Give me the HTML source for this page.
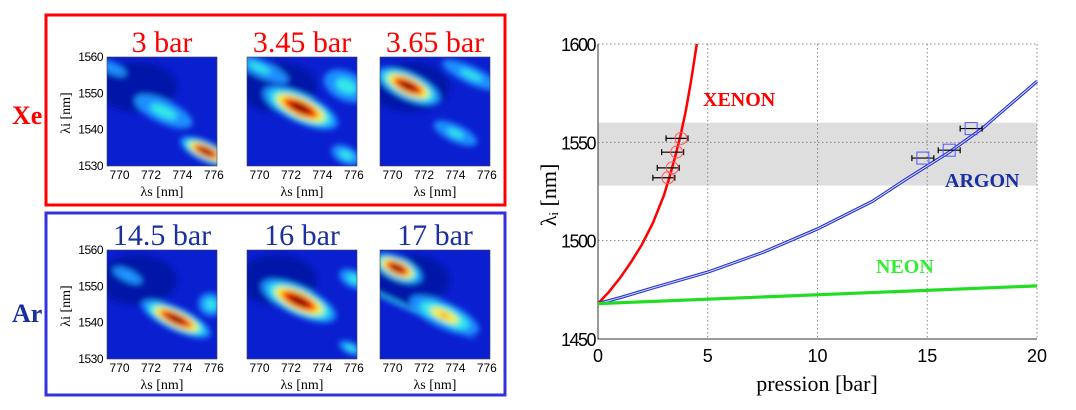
<!DOCTYPE html>
<html><head><meta charset="utf-8"><style>
body{margin:0;background:#fff;width:1076px;height:405px;overflow:hidden;font-family:"Liberation Serif",serif}
</style></head><body>
<svg width="1076" height="405" viewBox="0 0 1076 405" xmlns="http://www.w3.org/2000/svg">
<defs>
<filter id="bl" x="-50%" y="-50%" width="200%" height="200%"><feGaussianBlur stdDeviation="3"/></filter>
<clipPath id="hc"><rect x="0" y="0" width="110" height="109"/></clipPath>
</defs>
<g id="left"></g>
<g id="chart"></g>
</svg>
<script>
const NS='http://www.w3.org/2000/svg';
function mk(t,a,p,txt){const e=document.createElementNS(NS,t);for(const k in a)e.setAttribute(k,a[k]);if(txt!==undefined)e.textContent=txt;p.appendChild(e);return e;}
// ---- chart data ----
const xTicks=[0,5,10,15,20];
const yTicks=[1450,1500,1550,1600];
const band=[1528,1560];
const xenonP=[0,0.5,1,1.5,2,2.5,3,3.25,3.5,3.75,4,4.25,4.5];
const xenonL=[1468,1474,1481,1489,1498,1509,1523,1532,1542,1553,1566,1582,1600];
const argonP=[0,1,2.5,5,7.5,10,12.5,14,15,16,17.5,20];
const argonL=[1468,1471,1476,1484,1494,1506,1520,1531,1538,1545,1557,1581];
const neonP=[0,20];
const neonL=[1468,1477];
const xeDataP=[3.0,3.2,3.4,3.6];
const xeDataL=[1532,1537,1545,1552];
const arDataP=[14.8,16.0,17.0];
const arDataL=[1542,1546,1557];
const errX=0.5;
const X=p=>598+p*(1037-598)/20;
const Y=l=>339-(l-1450)*(339-44)/150;
const C=document.getElementById('chart');
let r=mk('rect',{x:598,y:Y(band[1]),width:439,height:Y(band[0])-Y(band[1]),fill:'#dedede'},C);

xTicks.forEach(t=>{if(t>0){let g=mk('line',{x1:X(t),x2:X(t),y1:44,y2:339,stroke:'#888','stroke-dasharray':'1.5,2.5'},C);}
 let l=mk('text',{x:X(t),y:362,'text-anchor':'middle','font-family':'Liberation Sans, sans-serif','font-size':18},C,t);});
yTicks.forEach(t=>{if(t>1450){let g=mk('line',{x1:598,x2:1037,y1:Y(t),y2:Y(t),stroke:'#888','stroke-dasharray':'1.5,2.5'},C);}
 let l=mk('text',{x:595,y:Y(t)+7,'text-anchor':'end','font-family':'Liberation Sans, sans-serif','font-size':18,'letter-spacing':'-1.5'},C,t);});
let ax=mk('path',{d:'M598,44V339H1037',fill:'none',stroke:'#333','stroke-width':1},C);
function line(P,L,col,w,name){let d=P.map((p,i)=>(i?'L':'M')+X(p).toFixed(1)+','+Y(L[i]).toFixed(1)).join('');let e=mk('path',{d:d,fill:'none',stroke:col,'stroke-width':w,'stroke-linejoin':'round'},C);return e;}
line(xenonP,xenonL,'#f00',2.5,'xenon-curve');
line(argonP,argonL,'#2233dd',3.2,'argon-curve');
line(argonP,argonL,'#dde',1,'argon-curve-inner');
line(neonP,neonL,'#22dd22',3.2,'neon-curve');
xeDataP.forEach((p,i)=>{let e=mk('path',{d:`M${X(p-errX)},${Y(xeDataL[i])}h${X(2*errX)-598}M${X(p-errX)},${Y(xeDataL[i])-3}v6M${X(p+errX)},${Y(xeDataL[i])-3}v6`,stroke:'#000','stroke-width':1.2},C);
 let c=mk('circle',{cx:X(p)+4,cy:Y(xeDataL[i]),r:6,fill:'none',stroke:'#f55'},C);});
arDataP.forEach((p,i)=>{let e=mk('path',{d:`M${X(p-errX)},${Y(arDataL[i])}h${X(2*errX)-598}M${X(p-errX)},${Y(arDataL[i])-3}v6M${X(p+errX)},${Y(arDataL[i])-3}v6`,stroke:'#000','stroke-width':1.2},C);
 let c=mk('rect',{x:X(p)-6,y:Y(arDataL[i])-6,width:12,height:12,fill:'none',stroke:'#55f'},C);});
[['XENON',703,106,'#f00'],['ARGON',945,187,'#1a2fa0'],['NEON',876,273,'#33ee33']].forEach(a=>{let t=mk('text',{x:a[1],y:a[2],fill:a[3],'font-size':20,'font-weight':'bold'},C,a[0]);});
let xl=mk('text',{x:817,y:391,'text-anchor':'middle','font-size':22},C,'pression [bar]');
let yl=mk('text',{x:0,y:0,'text-anchor':'middle','font-size':22,transform:'translate(556,195) rotate(-90)'},C,'λᵢ [nm]');

// ---- heatmaps ----
const L=document.getElementById('left');
const panelTitles=[['3 bar','3.45 bar','3.65 bar'],['14.5 bar','16 bar','17 bar']];
// blobs: [lambdaS, lambdaI, rx(nm), ry(nm), peak level 0..4]
const blobs=[
 [[[772.8,1545,2,4,1],[775.5,1534,1.8,3.5,4],[769.5,1557,1,2,0.3]],
  [[772.6,1546,2.6,5,4],[775.5,1552,1.5,5,1],[775.5,1533,1,3,1],[770,1557,2,3,0.8]],
  [[771,1552,2.2,4.5,4],[775,1555,2,3,0.8],[774,1539,1.5,3,0.8]]],
 [[[773.6,1541,2.4,4,4],[775.8,1545,0.8,4,1],[770.5,1553,1,2,0.4]],
  [[772.5,1546,2.6,5,4],[776,1552,1,3,1],[775.8,1533,0.8,2,1]],
  [[770.3,1555,1.7,4,4],[773.3,1542,2.4,4.5,2.2],[770,1546,6,0.6,1]]]];
const cols=['#1f8fff','#30e8e8','#f8f020','#ff2000','#900000'];
const px=[107,247,380],py=[57,250];
const boxes=[[46,15,459,190,'#f00','Xe',12,124],[46,213,459,182,'#33d','Ar',12,322]];
boxes.forEach((b,i)=>{let e=mk('rect',{x:b[0],y:b[1],width:b[2],height:b[3],fill:'none',stroke:b[4],'stroke-width':3},L);
 let t=mk('text',{x:b[6],y:b[7],fill:i?'#1a2fa0':'#f00','font-size':26,'font-weight':'bold'},L,b[5]);});
const sx=s=>(s-769.2)*110/7, sy=l=>(1560-l)*109/30;
for(let r=0;r<2;r++)for(let c=0;c<3;c++){
 const g=mk('g',{transform:`translate(${px[c]},${py[r]})`},L);
 const inner=mk('g',{'clip-path':'url(#hc)'},g);
 mk('rect',{x:0,y:0,width:110,height:109,fill:'#0a1fd0'},inner);
 const bg=mk('g',{filter:'url(#bl)'},inner);
 mk('ellipse',{cx:30,cy:30,rx:40,ry:25,fill:'#0018a8'},bg);
 blobs[r][c].forEach(b=>{const lv=b[4];const n=Math.ceil(lv);for(let k=0;k<=Math.min(4,n);k++){const f=1-0.8*k/(lv+0.5);mk('ellipse',{cx:sx(b[0]),cy:sy(b[1]),rx:b[2]*110/7*f,ry:b[3]*109/30*f*0.8,fill:cols[k],transform:`rotate(25 ${sx(b[0])} ${sy(b[1])})`},bg);}});
 const t=mk('text',{x:55,y:-5,'text-anchor':'middle',fill:r?'#1a2fa0':'#f00','font-size':30},g,panelTitles[r][c]);
 mk('rect',{x:0,y:0,width:110,height:109,fill:'none',stroke:'#444','stroke-width':0.6},g);
 [770,772,774,776].forEach(v=>{const tl=mk('text',{x:sx(v),y:122,'text-anchor':'middle','font-family':'Liberation Sans, sans-serif','font-size':12},g,v);});
 const xl=mk('text',{x:55,y:139,'text-anchor':'middle','font-size':14},g,'λs [nm]');
 if(c==0){[1560,1550,1540,1530].forEach(v=>{const tl=mk('text',{x:-4,y:sy(v)+4,'text-anchor':'end','font-family':'Liberation Sans, sans-serif','font-size':12,'letter-spacing':'-0.5'},g,v);});
  const yl=mk('text',{x:0,y:0,'text-anchor':'middle','font-size':14,transform:'translate(-37,56) rotate(-90)'},g,'λi [nm]');}
}
</script>
</body></html>
